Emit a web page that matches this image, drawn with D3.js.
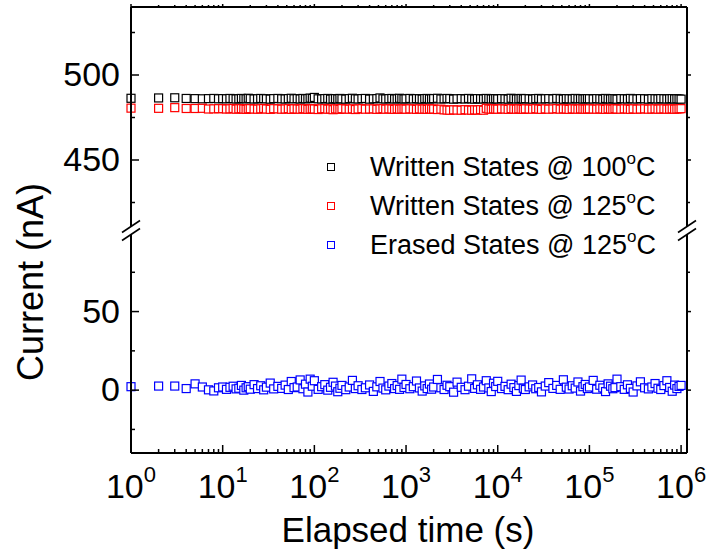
<!DOCTYPE html>
<html><head><meta charset="utf-8">
<script src="https://cdn.jsdelivr.net/npm/d3@7"></script>
<style>
html,body{margin:0;padding:0;background:#fff;}
svg{display:block;font-family:"Liberation Sans",Arial,Helvetica,sans-serif;}
</style></head>
<body>
<svg id="chart" width="708" height="554"></svg>
<script>
// ---------------- data ----------------
const times = [
 1,2,3,4,5,6,7,8,9,
 10,11,12,13,14,15,16,17,18,19,20,22,24,26,28,30,33,36,40,44,48,52,56,60,65,70,75,80,85,90,95,
 100,110,120,130,140,150,160,170,180,190,200,220,240,260,280,300,330,360,400,440,480,520,560,600,650,700,750,800,850,900,950,
 1000,1100,1200,1300,1400,1500,1600,1700,1800,1900,2000,2200,2400,2600,2800,3000,3300,3600,4000,4400,4800,5200,5600,6000,6500,7000,7500,8000,8500,9000,9500,
 10000,11000,12000,13000,14000,15000,16000,17000,18000,19000,20000,22000,24000,26000,28000,30000,33000,36000,40000,44000,48000,52000,56000,60000,65000,70000,75000,80000,85000,90000,95000,
 100000,110000,120000,130000,140000,150000,160000,170000,180000,190000,200000,220000,240000,260000,280000,300000,330000,360000,400000,440000,480000,520000,560000,600000,650000,700000,750000,800000,850000,900000,950000,
 1000000
];
const written100 = [
 486.3,486.5,486.6,486.2,486.1,486.0,486.1,486.2,486.0,
 486.1,486.0,486.2,486.1,485.9,486.0,486.2,486.1,486.0,486.3,486.1,485.9,486.0,486.2,486.1,486.0,485.8,486.1,486.2,486.0,485.9,486.1,486.3,486.0,486.1,485.9,486.2,486.0,486.1,486.4,486.2,
 486.8,486.0,485.9,486.1,486.2,485.8,486.0,486.1,485.9,486.2,486.0,485.8,486.1,486.3,486.0,485.9,486.1,486.2,485.8,486.0,486.1,486.5,486.0,485.9,486.1,486.2,485.9,486.0,486.3,486.1,485.9,
 486.0,486.2,485.9,486.1,486.0,485.8,486.1,486.2,485.9,486.0,486.1,486.3,485.9,486.0,486.2,486.1,485.8,486.0,486.1,485.9,486.2,486.0,485.8,486.1,486.0,485.9,486.2,486.1,485.9,486.0,486.1,
 485.9,486.1,486.0,485.8,486.3,486.1,485.9,486.0,486.2,485.9,486.1,486.0,485.8,486.1,486.2,485.9,486.0,486.1,485.9,486.2,486.0,485.8,486.1,486.0,485.9,486.2,486.0,486.1,485.9,486.0,486.1,
 486.0,485.9,486.1,486.0,485.8,486.2,486.0,485.9,486.1,486.0,485.8,486.1,486.0,485.9,486.2,486.0,485.9,486.1,486.0,485.8,486.1,486.0,485.9,486.1,486.0,485.9,486.0,486.1,485.9,486.0,485.9,
 485.8
];
const written125 = [
 480.5,480.4,480.8,480.3,480.3,480.4,480.0,480.1,480.2,
 480.2,480.0,480.1,480.3,479.9,480.1,480.2,480.0,479.8,480.1,480.2,480.0,479.9,480.1,480.3,480.0,479.8,480.2,480.1,479.9,480.0,480.2,479.8,480.1,480.0,479.9,480.2,480.1,479.8,480.0,480.1,
 480.0,479.7,480.1,480.2,479.9,480.0,479.6,480.1,480.0,479.8,480.2,480.0,479.9,480.1,479.7,480.0,480.2,479.9,480.0,480.1,479.8,480.0,480.2,479.9,480.1,480.0,479.8,480.1,479.9,480.0,480.1,
 479.9,480.1,480.0,479.8,480.1,479.9,480.0,479.8,480.1,479.9,480.0,479.7,479.9,479.5,479.4,479.3,479.5,479.4,479.3,479.6,479.4,479.3,479.5,479.4,479.6,479.3,480.4,480.0,479.9,480.1,480.0,
 479.9,480.1,480.0,479.8,480.2,480.0,479.9,480.1,480.0,479.8,480.1,480.0,479.9,480.2,480.0,479.8,480.1,479.9,480.0,480.2,479.9,480.1,480.0,479.8,480.1,480.0,479.9,480.1,480.0,479.9,480.0,
 480.1,480.0,479.9,480.1,480.0,479.8,480.1,480.0,479.9,480.2,480.0,479.9,480.1,480.0,479.8,480.1,479.9,480.0,480.1,479.9,480.0,480.1,479.9,480.0,480.1,479.9,480.0,480.1,479.9,480.0,480.1,
 480.2
];
const erased125 = [
 2.2,2.6,2.6,1.0,4.0,2.0,0.2,-0.5,1.5,
 2.0,0.5,1.8,2.5,0.8,1.2,3.0,0.0,1.5,2.2,0.6,3.5,1.0,2.8,0.2,1.9,4.5,0.8,2.4,1.1,3.2,0.4,5.5,1.6,2.0,6.5,0.9,3.8,-1.2,7.0,2.5,
 6.0,0.5,2.2,3.5,0.0,1.8,5.0,2.6,-1.0,1.2,3.0,0.3,2.0,6.2,1.0,2.8,0.4,1.5,3.3,-0.8,2.1,5.5,1.3,0.2,2.6,4.2,1.0,2.9,0.5,7.0,1.7,
 3.6,0.9,2.2,5.8,1.4,-0.6,2.7,1.0,3.9,0.6,2.0,6.8,1.5,0.4,3.1,2.2,-1.3,5.1,1.8,0.3,2.5,7.2,1.1,3.4,0.5,2.0,6.0,1.4,-0.9,4.4,2.3,
 5.6,1.0,2.4,0.3,3.8,1.6,-0.8,2.9,6.4,1.2,0.4,2.1,3.3,0.9,1.7,-1.1,2.6,4.8,1.1,3.0,0.5,6.6,1.9,0.7,2.8,1.3,5.2,-0.6,2.2,3.6,1.0,
 2.0,6.2,0.6,3.1,1.4,-0.9,4.0,2.5,0.9,1.6,7.0,2.2,0.5,3.4,1.1,-1.2,2.7,5.3,1.5,0.8,2.0,4.2,1.2,0.4,2.9,6.0,1.7,-0.7,3.2,1.0,2.4,
 3.0
];
const seriesNames = ["Written States @ 100", "Written States @ 125", "Erased States @ 125"];
const seriesColors = ["#000000", "#ff0000", "#0000ff"];
const xTickExps = [0,1,2,3,4,5,6];
const yTopTicks = [450, 500];
const yTopMinor = [425, 475, 525];
const yBotTicks = [0, 50];
const yBotMinor = [-25, 25, 75];

// ---------------- layout ----------------
const svg = d3.select("#chart");
const L = 131, R = 687, T = 7, B = 453;
const breakTop = 228, breakBot = 233;
const x = d3.scaleLog().domain([1, 1.16e6]).range([L, R]);
const yTop = d3.scaleLinear().domain([410, 540]).range([breakTop, T]);
const yBot = d3.scaleLinear().domain([-40, 100]).range([B, breakBot]);
const fontTick = 34, fontXTitle = 35, fontYTitle = 36;

// data markers
const ms = 8;
const series = [written100, written125, erased125];
series.forEach((vals, si) => {
  const ys = si < 2 ? yTop : yBot;
  svg.append("g").selectAll("rect").data(times).join("rect")
    .attr("x", (t) => x(t) - ms/2)
    .attr("y", (t, i) => ys(vals[i]) - ms/2)
    .attr("width", ms).attr("height", ms)
    .attr("fill", "#fff")
    .attr("stroke", seriesColors[si])
    .attr("stroke-width", 1.2);
});

// frame
const ax = svg.append("g").attr("stroke", "#000").attr("stroke-width", 2).attr("fill", "none");
ax.append("line").attr("x1", L).attr("x2", R).attr("y1", B).attr("y2", B);
ax.append("line").attr("x1", L).attr("x2", R).attr("y1", T).attr("y2", T);
[L, R].forEach(xx => {
  ax.append("line").attr("x1", xx).attr("x2", xx).attr("y1", T).attr("y2", breakTop - 1);
  ax.append("line").attr("x1", xx).attr("x2", xx).attr("y1", breakBot + 1).attr("y2", B);
  [breakTop - 1.5, breakBot + 1.5].forEach(yy => {
    ax.append("line").attr("stroke-width", 1.6)
      .attr("x1", xx - 9).attr("y1", yy + 6).attr("x2", xx + 9).attr("y2", yy - 6);
  });
});

// x ticks
const tk = svg.append("g").attr("stroke", "#000").attr("stroke-width", 1.5);
for (let e = 0; e <= 6; e++) {
  for (let m = 1; m <= 9; m++) {
    const v = m * Math.pow(10, e);
    if (v > 1.16e6) continue;
    const major = m === 1;
    const len = major ? 8 : 4;
    tk.append("line").attr("x1", x(v)).attr("x2", x(v)).attr("y1", B).attr("y2", B - len);
    tk.append("line").attr("x1", x(v)).attr("x2", x(v)).attr("y1", T).attr("y2", T - (major ? 3 : 2));
  }
}
// y ticks
function yTick(sc, v, major) {
  const len = major ? 8 : 4;
  tk.append("line").attr("x1", L).attr("x2", L + len).attr("y1", sc(v)).attr("y2", sc(v));
  tk.append("line").attr("x1", R).attr("x2", R + (major ? 4 : 3)).attr("y1", sc(v)).attr("y2", sc(v));
}
yTopTicks.forEach(v => yTick(yTop, v, true));
yTopMinor.forEach(v => yTick(yTop, v, false));
yBotTicks.forEach(v => yTick(yBot, v, true));
yBotMinor.forEach(v => yTick(yBot, v, false));

// y tick labels
const lab = svg.append("g").attr("fill", "#000");
yTopTicks.forEach(v => lab.append("text").attr("x", 120).attr("y", yTop(v)).attr("dy", "0.33em")
  .attr("text-anchor", "end").attr("font-size", fontTick).text(v));
yBotTicks.forEach(v => lab.append("text").attr("x", 120).attr("y", yBot(v)).attr("dy", "0.33em")
  .attr("text-anchor", "end").attr("font-size", fontTick).text(v));

// x tick labels
xTickExps.forEach(e => {
  const t = lab.append("text").attr("x", x(Math.pow(10, e))).attr("y", 498)
    .attr("text-anchor", "middle").attr("font-size", fontTick);
  t.append("tspan").text("10");
  t.append("tspan").attr("font-size", 22).attr("dy", -16).text(e);
});

// axis titles
lab.append("text").attr("x", 408).attr("y", 542).attr("text-anchor", "middle")
  .attr("font-size", fontXTitle).text("Elapsed time (s)");
lab.append("text").attr("transform", "translate(43,282) rotate(-90)").attr("text-anchor", "middle")
  .attr("font-size", fontYTitle).text("Current (nA)");

// legend
const lg = svg.append("g");
seriesNames.forEach((name, i) => {
  const cy = 167 + i * 39;
  lg.append("rect").attr("x", 331 - 3.5).attr("y", cy - 3.5).attr("width", 7).attr("height", 7)
    .attr("fill", "#fff").attr("stroke", seriesColors[i]).attr("stroke-width", 1);
  const t = lg.append("text").attr("x", 370).attr("y", cy + 9).attr("font-size", 27).attr("fill", "#000");
  t.append("tspan").text(name);
  t.append("tspan").attr("font-size", 17).attr("dy", -12).text("o");
  t.append("tspan").attr("dy", 12).text("C");
});
</script>
</body></html>
